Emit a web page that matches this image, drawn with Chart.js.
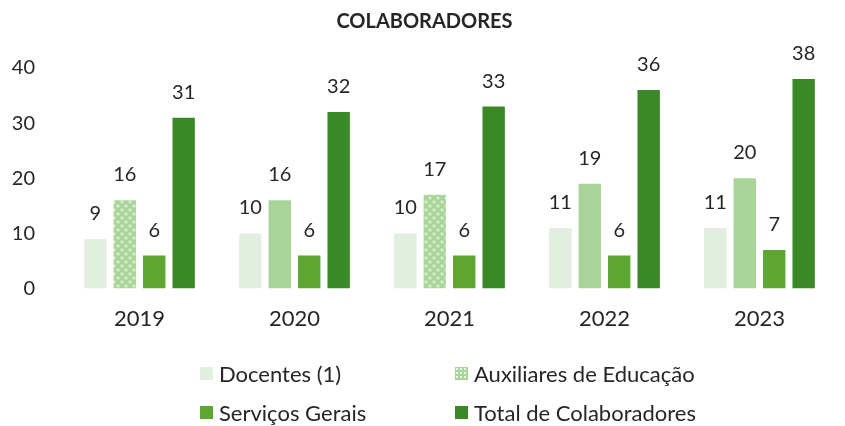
<!DOCTYPE html>
<html>
<head>
<meta charset="utf-8">
<script src="https://cdn.jsdelivr.net/npm/chart.js@4"></script>
<style>
  html, body { margin: 0; padding: 0; background: #fff; }
  #wrap { position: relative; width: 845px; height: 426px; }
  #legend { position: absolute; left: 0; top: 0; width: 845px; height: 426px; pointer-events: none;
            font-family: Lato, "Noto Sans", sans-serif; font-size: 22px; color: #262626; }
  .lg { position: absolute; display: flex; align-items: center; white-space: nowrap; }
  .lg i { display: inline-block; width: 13px; height: 13px; margin-right: 6px; }
</style>
</head>
<body>
<div id="wrap">
  <canvas id="c" width="845" height="426"></canvas>
  <div id="legend"></div>
</div>
<script>
  const years = ["2019", "2020", "2021", "2022", "2023"];
  const docentes = [9, 10, 10, 11, 11];
  const auxiliares = [16, 16, 17, 19, 20];
  const servicos = [6, 6, 6, 6, 7];
  const total = [31, 32, 33, 36, 38];
  const seriesNames = ["Docentes (1)", "Auxiliares de Educação", "Serviços Gerais", "Total de Colaboradores"];
  const yTicks = [0, 10, 20, 30, 40];

  const colors = ["#e2eee0", "#a8d597", "#5ca631", "#3a8828"];
  const textColor = "#262626";
  const fontFamily = "Lato, 'Noto Sans', sans-serif";

  // speckled fill like the scanned bars
  function speckle(base) {
    const p = document.createElement("canvas");
    p.width = 8; p.height = 8;
    const g = p.getContext("2d");
    g.fillStyle = base;
    g.fillRect(0, 0, 8, 8);
    g.strokeStyle = "rgba(240,250,236,0.8)";
    g.lineWidth = 1;
    g.beginPath(); g.arc(2, 2, 1.2, 0, Math.PI * 2); g.stroke();
    g.beginPath(); g.arc(6, 6, 1.2, 0, Math.PI * 2); g.stroke();
    return g.createPattern(p, "repeat");
  }
  const auxPattern = speckle(colors[1]);
  const auxFill = years.map((y, i) => (i === 0 || i === 2) ? auxPattern : colors[1]);

  const valueLabels = {
    id: "valueLabels",
    afterDatasetsDraw(chart) {
      const ctx = chart.ctx;
      ctx.save();
      ctx.font = "20px " + fontFamily;
      ctx.fillStyle = textColor;
      ctx.textAlign = "center";
      ctx.textBaseline = "alphabetic";
      chart.data.datasets.forEach((ds, di) => {
        chart.getDatasetMeta(di).data.forEach((bar, i) => {
          ctx.fillText(String(ds.data[i]), bar.x, bar.y - 19);
        });
      });
      ctx.restore();
    }
  };

  const chart = new Chart(document.getElementById("c"), {
    type: "bar",
    data: {
      labels: years,
      datasets: [
        { label: seriesNames[0], data: docentes, backgroundColor: colors[0] },
        { label: seriesNames[1], data: auxiliares, backgroundColor: auxFill },
        { label: seriesNames[2], data: servicos, backgroundColor: colors[2] },
        { label: seriesNames[3], data: total, backgroundColor: colors[3] }
      ]
    },
    options: {
      responsive: false,
      animation: false,
      events: [],
      categoryPercentage: 0.76,
      barPercentage: 0.76,
      layout: { padding: { left: 12, right: 8, bottom: 77, top: 0 } },
      plugins: {
        legend: { display: false },
        tooltip: { enabled: false },
        title: {
          display: true,
          text: "COLABORADORES",
          color: textColor,
          font: { family: fontFamily, size: 20, weight: "bold" },
          padding: { top: 10, bottom: 34 }
        }
      },
      scales: {
        x: {
          grid: { display: false, drawTicks: false },
          border: { display: false },
          ticks: { color: textColor, font: { family: fontFamily, size: 22 }, padding: 17 }
        },
        y: {
          min: 0,
          max: 40,
          afterFit(s) { s.width = 50; },
          afterBuildTicks(s) { s.ticks = yTicks.map(v => ({ value: v })); },
          grid: { display: false, drawTicks: false },
          border: { display: false },
          ticks: { color: textColor, font: { family: fontFamily, size: 20 }, padding: 27 }
        }
      }
    },
    plugins: [valueLabels]
  });

  // two-column legend, laid out like the original
  const legend = document.getElementById("legend");
  const spots = [[200, 373], [455, 373], [200, 412], [455, 412]];
  seriesNames.forEach((name, i) => {
    const d = document.createElement("div");
    d.className = "lg";
    d.style.left = spots[i][0] + "px";
    d.style.top = (spots[i][1] - 14) + "px";
    d.style.height = "28px";
    const box = document.createElement("i");
    box.style.background = colors[i];
    if (i === 1) box.style.backgroundImage = "radial-gradient(circle, rgba(240,250,236,0.9) 1px, transparent 1.5px)";
    if (i === 1) box.style.backgroundSize = "4px 4px";
    d.appendChild(box);
    d.appendChild(document.createTextNode(name));
    legend.appendChild(d);
  });
</script>
</body>
</html>
